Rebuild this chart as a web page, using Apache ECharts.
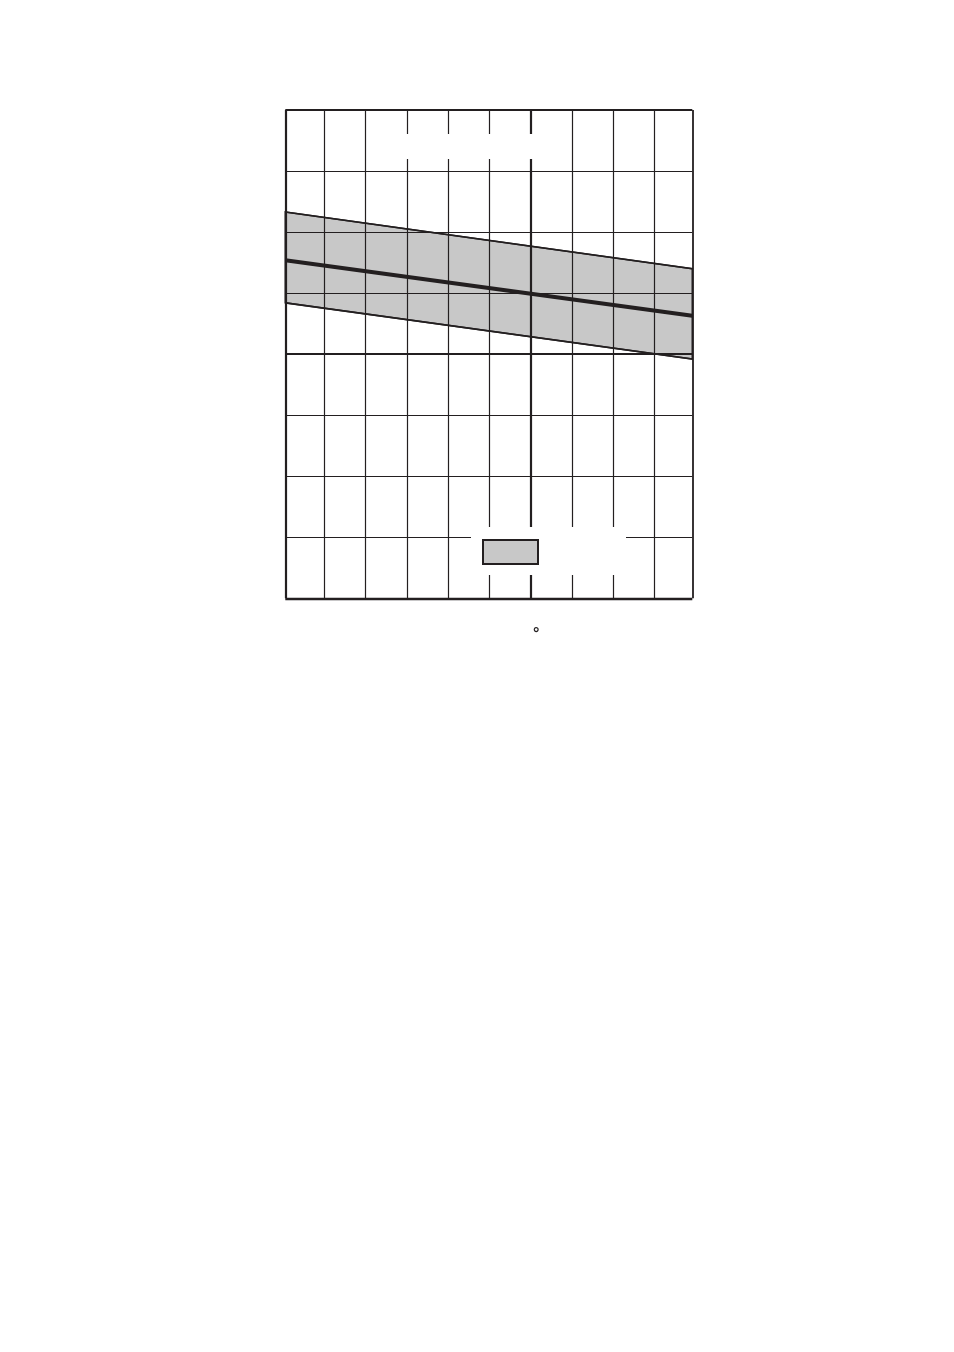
<!DOCTYPE html>
<html>
<head>
<meta charset="utf-8">
<script src="https://cdn.jsdelivr.net/npm/echarts@6/dist/echarts.min.js"></script>
<style>
  html, body { margin: 0; padding: 0; background: #ffffff; }
  #chart { width: 954px; height: 1352px; }
</style>
</head>
<body>
<div id="chart"></div>
<script>
// ---- data ----
const xMin = -0.944;
const xMax = 8.91;
const yMin = 0;
const yMax = 8;
const xGridValues = [0, 1, 2, 3, 4, 5, 6, 7, 8];
const xThickValue = 5;
const yGridValues = [1, 2, 3, 4, 5, 6, 7];
const yThickValue = 4;
const bandX = [-0.944, 8.91];
const bandUpper = [6.33, 5.40];
const bandLower = [4.84, 3.92];
const medianY = [5.54, 4.63];
const axisNote = '°';

const INK = '#231f20';
const GREY = '#c8c8c8';

const toPairs = (xs, ys) => xs.map((x, i) => [x, ys[i]]);

const gridLines = [];
xGridValues.forEach(v => gridLines.push({ xAxis: v, lineStyle: { width: v === xThickValue ? 2.2 : 1.2, color: INK, type: 'solid' } }));
yGridValues.forEach(v => gridLines.push({ yAxis: v, lineStyle: { width: v === yThickValue ? 2.2 : 1.2, color: INK, type: 'solid' } }));
// frame
gridLines.push({ xAxis: xMin, lineStyle: { width: 2.2, color: INK, type: 'solid' } });
gridLines.push({ xAxis: xMax, lineStyle: { width: 1.8, color: INK, type: 'solid' } });
gridLines.push({ yAxis: yMin, lineStyle: { width: 2.4, color: INK, type: 'solid' } });
gridLines.push({ yAxis: yMax, lineStyle: { width: 2.2, color: INK, type: 'solid' } });

const chart = echarts.init(document.getElementById('chart'), null, { renderer: 'canvas' });

const option = {
  backgroundColor: '#ffffff',
  animation: false,
  grid: { left: 285.3, top: 110, width: 407, height: 488.3, show: false },
  xAxis: {
    type: 'value', min: xMin, max: xMax,
    axisLine: { show: false }, axisTick: { show: false }, axisLabel: { show: false }, splitLine: { show: false }
  },
  yAxis: {
    type: 'value', min: yMin, max: yMax,
    axisLine: { show: false }, axisTick: { show: false }, axisLabel: { show: false }, splitLine: { show: false }
  },
  legend: {
    left: 471, top: 527,
    backgroundColor: '#ffffff',
    padding: [12, 87, 10, 11],
    itemWidth: 55, itemHeight: 24,
    icon: 'rect',
    data: [{ name: 'band', itemStyle: { color: GREY, borderColor: INK, borderWidth: 2 } }],
    formatter: () => '',
    selectedMode: false,
    z: 20
  },
  graphic: [
    { type: 'rect', z: 100, shape: { x: 369, y: 134, width: 200, height: 25 }, style: { fill: '#ffffff' } },
    { type: 'text', z: 100, left: 533, top: 627, style: { text: axisNote, font: 'bold 16px "Liberation Sans", Arial, sans-serif', fill: INK } }
  ],
  series: [
    {
      name: 'band',
      type: 'custom',
      z: 1,
      itemStyle: { color: GREY },
      data: [[0]],
      renderItem: function (params, api) {
        const pts = [];
        for (let i = 0; i < bandX.length; i++) pts.push(api.coord([bandX[i], bandUpper[i]]));
        for (let i = bandX.length - 1; i >= 0; i--) pts.push(api.coord([bandX[i], bandLower[i]]));
        return { type: 'polygon', shape: { points: pts }, style: { fill: GREY, stroke: INK, lineWidth: 1.6 } };
      }
    },
    {
      name: 'grid-lines',
      type: 'line',
      z: 3,
      data: [],
      markLine: { silent: true, symbol: 'none', label: { show: false }, animation: false, data: gridLines }
    },
    {
      name: 'upper',
      type: 'line', z: 4, symbol: 'none',
      lineStyle: { color: INK, width: 1.6 },
      data: toPairs(bandX, bandUpper)
    },
    {
      name: 'lower',
      type: 'line', z: 4, symbol: 'none',
      lineStyle: { color: INK, width: 1.6 },
      data: toPairs(bandX, bandLower)
    },
    {
      name: 'median',
      type: 'line', z: 5, symbol: 'none',
      lineStyle: { color: INK, width: 4 },
      data: toPairs(bandX, medianY)
    }
  ]
};
chart.setOption(option);
</script>
</body>
</html>
